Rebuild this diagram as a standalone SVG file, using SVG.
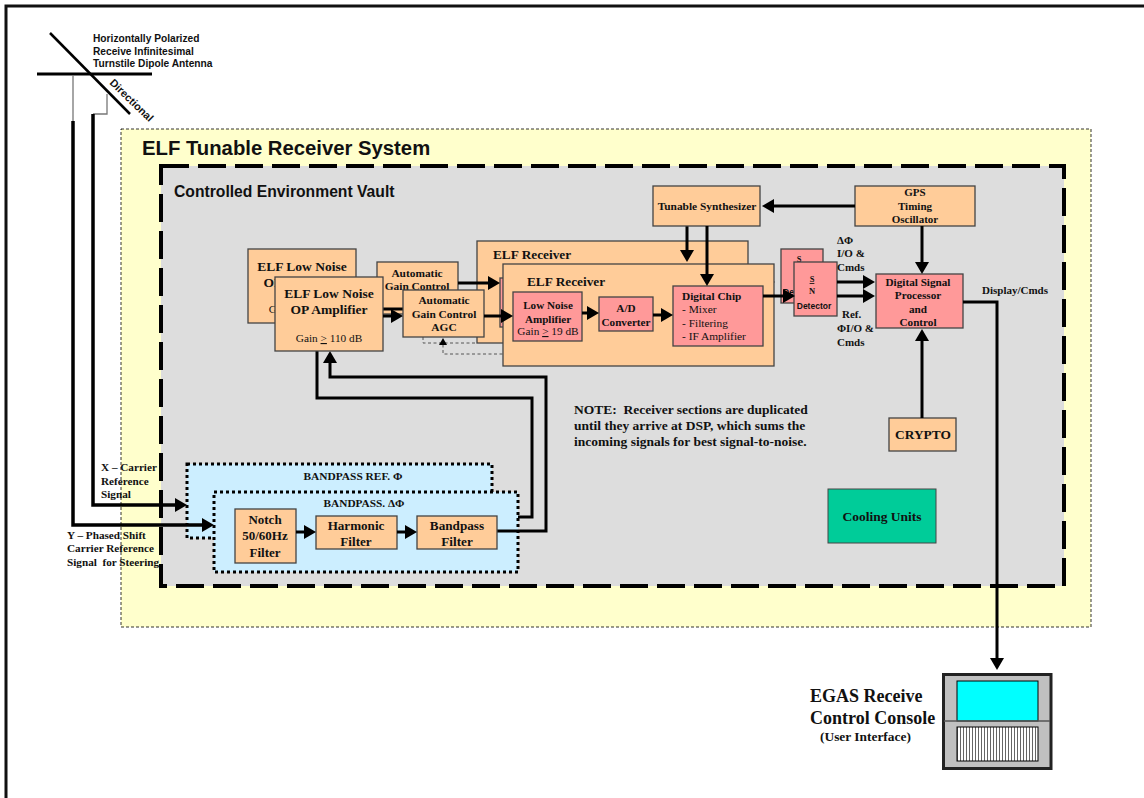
<svg xmlns="http://www.w3.org/2000/svg" width="1144" height="798" viewBox="0 0 1144 798">
<style>
.t{font-family:"Liberation Serif","Times New Roman",serif;font-weight:bold;fill:#111;text-anchor:middle}
.l{text-anchor:start}
.n{font-weight:normal}
.a{font-family:"Liberation Sans",Arial,sans-serif;font-weight:bold;fill:#111}
.o{fill:#ffcc99;stroke:#444;stroke-width:1.3}
.p{fill:#ff9999;stroke:#444;stroke-width:1.3}
.b{fill:#cceeff;stroke:#000;stroke-width:3;stroke-dasharray:3 3}
.c{fill:none;stroke:#000;stroke-width:3}
.w{fill:none;stroke:#000;stroke-width:3.5}
.g{fill:none;stroke:#777;stroke-width:1.3}
.d{fill:none;stroke:#555;stroke-width:1;stroke-dasharray:3 2.5}
.ar{marker-end:url(#h)}
.as{marker-end:url(#s)}
</style>
<defs>
<marker id="h" markerUnits="userSpaceOnUse" markerWidth="14" markerHeight="14" refX="6" refY="7" orient="auto"><path d="M0 0L12 7L0 14Z" fill="#000"/></marker>
<marker id="s" markerUnits="userSpaceOnUse" markerWidth="8" markerHeight="8" refX="3" refY="4" orient="auto"><path d="M0 0L7 4L0 8Z" fill="#000"/></marker>
<pattern id="hatch" patternUnits="userSpaceOnUse" width="3" height="3"><rect width="3" height="3" fill="#fff"/><rect width="1" height="3" fill="#666"/></pattern>
</defs>
<rect width="1144" height="798" fill="#fff"/>
<path d="M6 798V6H1144" fill="none" stroke="#111" stroke-width="3"/>
<rect x="121" y="129" width="970" height="498" fill="#ffffcc" stroke="#000" stroke-width="0.8" stroke-dasharray="3 2"/>
<rect x="161" y="166" width="903" height="420" fill="#dddddd" stroke="#000" stroke-width="4" stroke-dasharray="28 9"/>
<text class="a" x="142" y="155" font-size="20.3">ELF Tunable Receiver System</text>
<text class="a" x="174" y="197" font-size="15.7">Controlled Environment Vault</text>

<g id="antenna">
<path d="M50 33L130 114" fill="none" stroke="#000" stroke-width="2.5"/>
<path d="M37 74H152" fill="none" stroke="#000" stroke-width="3"/>
<path class="g" d="M73 75V121M107 94V114H93"/>
<text class="a" x="93" y="42" font-size="10.2">Horizontally Polarized</text>
<text class="a" x="93" y="55" font-size="10.2">Receive Infinitesimal</text>
<text class="a" x="93" y="67" font-size="10.2">Turnstile Dipole Antenna</text>
<text class="a" font-size="10.8" text-anchor="middle" transform="translate(129 103) rotate(44)">Directional</text>
</g>

<g id="lna-back"><rect class="o" x="248" y="249" width="108" height="74"/>
<text class="t" x="302" y="271" font-size="13.5">ELF Low Noise</text><text class="t" x="302" y="287" font-size="13.5">OP Amplifier</text>
<text class="t n" x="302" y="313" font-size="11.3">Gain <tspan text-decoration="underline">&gt;</tspan> 110 dB</text></g>
<g id="agc-back"><rect class="o" x="377" y="262" width="81" height="52"/>
<text class="t" x="417" y="277" font-size="11.4">Automatic</text><text class="t" x="417" y="290" font-size="11.4">Gain Control</text></g>
<g id="receiver-back"><rect class="o" x="477" y="241" width="271" height="102"/>
<text class="t l" x="493" y="259" font-size="13.3">ELF Receiver</text>
<rect class="p" x="500" y="278" width="5" height="49"/></g>
<g id="detector-back"><rect class="p" x="781" y="249" width="42" height="54"/>
<text class="t" x="799" y="262" font-size="8.5">S</text>
<text class="a" x="783" y="295" font-size="8.5">De</text></g>

<g id="bandpass-ref"><rect class="b" x="187" y="464" width="305" height="74"/>
<text class="t" x="353" y="480" font-size="11.4">BANDPASS REF. Φ</text></g>
<g id="bandpass-delta"><rect class="b" x="214" y="492" width="304" height="80"/>
<text class="t" x="364" y="507" font-size="11.3">BANDPASS. ΔΦ</text></g>

<g id="connectors">
<path class="c" d="M383 309H403"/>
<path class="c ar" d="M458 283H494"/>
<path class="c ar" d="M687 226V256"/>
<path class="c ar" d="M763 282H769"/>
<path class="w ar" d="M73 121V525H208"/>
<path class="w ar" d="M93 114V505H181"/>
<path class="c ar" d="M497 531H546V377H330V357"/>
<path class="c" d="M518 517H532V398H317V351"/>
<path class="d" d="M423 337V343H477"/>
<path class="d as" d="M720 346V354H443V342"/>
</g>

<g id="lna-front"><rect class="o" x="275" y="277" width="108" height="74"/>
<text class="t" x="329" y="298" font-size="13.5">ELF Low Noise</text><text class="t" x="329" y="314" font-size="13.5">OP Amplifier</text>
<text class="t n" x="329" y="342" font-size="11.3">Gain <tspan text-decoration="underline">&gt;</tspan> 110 dB</text></g>
<g id="agc-front"><rect class="o" x="403" y="290" width="81" height="47"/>
<text class="t" x="444" y="304" font-size="11.4">Automatic</text><text class="t" x="444" y="318" font-size="11.4">Gain Control</text><text class="t" x="444" y="331" font-size="11.4">AGC</text></g>
<g id="receiver-front"><rect class="o" x="503" y="264" width="271" height="102"/>
<text class="t l" x="527" y="286" font-size="13.3">ELF Receiver</text></g>
<g id="lna-chip"><rect class="p" x="513" y="292" width="69" height="49"/>
<text class="t" x="548" y="309" font-size="11.1">Low Noise</text><text class="t" x="548" y="323" font-size="11.1">Amplifier</text>
<text class="t n" x="548" y="335" font-size="11.3">Gain <tspan text-decoration="underline">&gt;</tspan> 19 dB</text></g>
<g id="ad"><rect class="p" x="599" y="297" width="54" height="34"/>
<text class="t" x="626" y="312" font-size="11.2">A/D</text><text class="t" x="626" y="326" font-size="11.2">Converter</text></g>
<g id="chip"><rect class="p" x="673" y="286" width="90" height="60"/>
<text class="t l" x="682" y="300" font-size="11.3">Digital Chip</text>
<text class="t l n" x="682" y="313" font-size="11.4">- Mixer</text><text class="t l n" x="682" y="327" font-size="11.4">- Filtering</text><text class="t l n" x="682" y="340" font-size="11.4">- IF Amplifier</text></g>
<g id="detector-front"><rect class="p" x="794" y="262" width="43" height="54"/>
<text class="t" x="812" y="282" font-size="8.5" text-decoration="underline">S</text><text class="t" x="812" y="294" font-size="8.5">N</text>
<text class="a" x="814" y="309" font-size="8.5" text-anchor="middle">Detector</text></g>
<g id="synth"><rect class="o" x="653" y="186" width="107" height="40"/>
<text class="t" x="707" y="210" font-size="11.4">Tunable Synthesizer</text></g>
<g id="gps"><rect class="o" x="855" y="186" width="120" height="40"/>
<text class="t" x="915" y="196" font-size="11">GPS</text><text class="t" x="915" y="210" font-size="11">Timing</text><text class="t" x="915" y="223" font-size="11">Oscillator</text></g>
<g id="dsp"><rect class="p" x="876" y="274" width="87" height="54"/>
<text class="t" x="918" y="286" font-size="11.2">Digital Signal</text><text class="t" x="918" y="299" font-size="11.2">Processor</text><text class="t" x="918" y="313" font-size="11.2">and</text><text class="t" x="918" y="326" font-size="11.2">Control</text></g>
<g id="crypto"><rect class="o" x="889" y="418" width="67" height="33"/>
<text class="t" x="923" y="439" font-size="13.4">CRYPTO</text></g>
<g id="cooling"><rect x="828" y="489" width="108" height="54" fill="#00cc99" stroke="#444"/>
<text class="t" x="882" y="521" font-size="13.5">Cooling Units</text></g>
<g id="notch"><rect class="o" x="235" y="509" width="61" height="54"/>
<text class="t" x="265" y="524" font-size="13">Notch</text><text class="t" x="265" y="540" font-size="13">50/60Hz</text><text class="t" x="265" y="557" font-size="13">Filter</text></g>
<g id="harmonic"><rect class="o" x="316" y="516" width="81" height="33"/>
<text class="t" x="356" y="530" font-size="13.1">Harmonic</text><text class="t" x="356" y="546" font-size="13.1">Filter</text></g>
<g id="bandpass"><rect class="o" x="417" y="516" width="80" height="33"/>
<text class="t" x="457" y="530" font-size="13.2">Bandpass</text><text class="t" x="457" y="546" font-size="13.2">Filter</text></g>

<g id="connectors-front">
<path class="c ar" d="M383 316H397"/>
<path class="c ar" d="M484 316H507"/>
<path class="c ar" d="M582 313H593"/>
<path class="c ar" d="M653 315H667"/>
<path class="c ar" d="M707 226V280"/>
<path class="c ar" d="M763 296H789"/>
<path class="c ar" d="M837 282H869"/>
<path class="c ar" d="M837 296H869"/>
<path class="c ar" d="M855 206H768"/>
<path class="c ar" d="M922 226V268"/>
<path class="c ar" d="M922 418V335"/>
<path class="c ar" d="M963 302H997V664"/>
<path class="c ar" d="M296 532H310"/>
<path class="c ar" d="M397 532H411"/>
</g>

<g id="labels">
<text class="t l" x="837" y="244" font-size="11">ΔΦ</text><text class="t l" x="837" y="257" font-size="11">I/O &amp;</text><text class="t l" x="837" y="271" font-size="11">Cmds</text>
<text class="t l" x="842" y="318" font-size="11">Ref.</text><text class="t l" x="837" y="332" font-size="11">ΦI/O &amp;</text><text class="t l" x="837" y="346" font-size="11">Cmds</text>
<text class="t l" x="982" y="294" font-size="11">Display/Cmds</text>
<text class="t l" x="574" y="414" font-size="13.5" xml:space="preserve">NOTE:  Receiver sections are duplicated</text>
<text class="t l" x="574" y="430" font-size="13.5">until they arrive at DSP, which sums the</text>
<text class="t l" x="574" y="446" font-size="13.5">incoming signals for best signal-to-noise.</text>
<text class="t l" x="101" y="471" font-size="11.2">X – Carrier</text><text class="t l" x="101" y="485" font-size="11.2">Reference</text><text class="t l" x="101" y="498" font-size="11.2">Signal</text>
<text class="t l" x="67" y="539" font-size="11.2">Y – Phased Shift</text><text class="t l" x="67" y="552" font-size="11.2">Carrier Reference</text><text class="t l" x="67" y="566" font-size="11.2" xml:space="preserve">Signal  for Steering</text>
</g>

<g id="console">
<rect x="943.500" y="674.500" width="107.500" height="94" fill="#c0c0c0" stroke="#222" stroke-width="3"/>
<rect x="957" y="681" width="81" height="40" fill="#00ffff" stroke="#000"/>
<path d="M944 721H1050" stroke="#555" stroke-width="1.300"/>
<rect x="957" y="727" width="81" height="34" fill="url(#hatch)" stroke="#000"/>
<text class="t l" x="810" y="702" font-size="18">EGAS Receive</text>
<text class="t l" x="810" y="724" font-size="18">Control Console</text>
<text class="t l" x="820" y="741" font-size="13.4">(User Interface)</text>
</g>
</svg>
